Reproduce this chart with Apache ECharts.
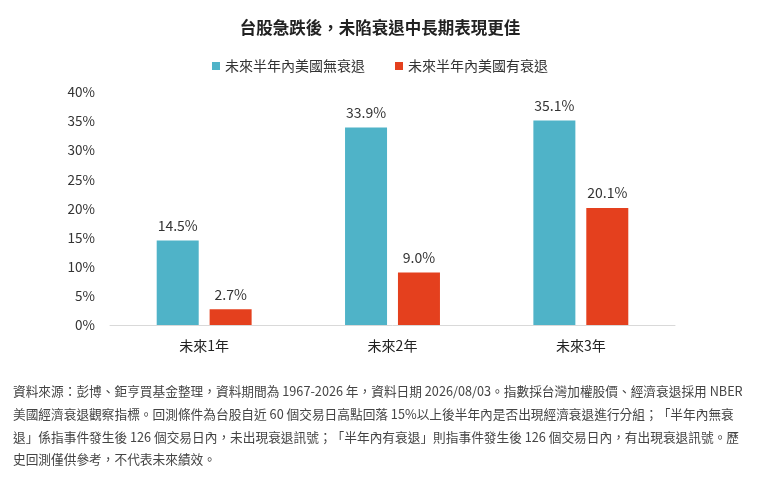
<!DOCTYPE html>
<html>
<head>
<meta charset="utf-8">
<script src="https://cdn.jsdelivr.net/npm/echarts@6/dist/echarts.min.js"></script>
<style>
  html, body { margin: 0; padding: 0; background: #fff; }
  #chart { width: 760px; height: 478px; }
</style>
</head>
<body>
<div id="chart"></div>
<script>
// data
const categories = ['未來1年', '未來2年', '未來3年'];
const noRecession = [14.5, 33.9, 35.1];
const withRecession = [2.7, 9.0, 20.1];
const seriesNames = ['未來半年內美國無衰退', '未來半年內美國有衰退'];
const titleText = '台股急跌後，未陷衰退中長期表現更佳';
const footnoteLines = [
    '資料來源：彭博、鉅亨買基金整理，資料期間為 1967-2026 年，資料日期 2026/08/03。指數採台灣加權股價、經濟衰退採用 NBER',
    '美國經濟衰退觀察指標。回測條件為台股自近 60 個交易日高點回落 15%以上後半年內是否出現經濟衰退進行分組；「半年內無衰',
    '退」係指事件發生後 126 個交易日內，未出現衰退訊號；「半年內有衰退」則指事件發生後 126 個交易日內，有出現衰退訊號。歷',
    '史回測僅供參考，不代表未來績效。'
];

const font = '"Noto Sans CJK TC", "Noto Sans", sans-serif';
const ecIns = echarts.init(document.getElementById('chart'));

const labelStyle = {
    show: true,
    position: 'top',
    distance: 8,
    fontSize: 14,
    color: '#333',
    fontFamily: font,
    formatter: p => p.value.toFixed(1) + '%'
};

ecIns.setOption({
    animation: false,
    textStyle: { fontFamily: font },
    title: {
        text: titleText,
        left: 'center',
        top: 14,
        textStyle: { fontSize: 16.5, fontWeight: 'bold', color: '#222', fontFamily: font }
    },
    legend: {
        top: 54,
        left: 'center',
        itemWidth: 8,
        itemHeight: 8,
        itemGap: 30,
        icon: 'rect',
        textStyle: { fontSize: 14, color: '#333', fontFamily: font },
        data: seriesNames
    },
    grid: { left: 110, right: 85, top: 92, bottom: 153, containLabel: false },
    xAxis: {
        type: 'category',
        data: categories,
        axisLine: { lineStyle: { color: '#d9d9d9' } },
        axisTick: { show: false },
        axisLabel: { fontSize: 14, color: '#222', margin: 14, fontFamily: font }
    },
    yAxis: {
        type: 'value',
        min: 0,
        max: 40,
        interval: 5,
        axisLine: { show: false },
        axisTick: { show: false },
        splitLine: { show: false },
        axisLabel: { formatter: '{value}%', fontSize: 13.5, color: '#333', margin: 15, fontFamily: font }
    },
    series: [
        {
            name: seriesNames[0],
            type: 'bar',
            data: noRecession,
            barWidth: 42,
            barGap: '26%',
            itemStyle: { color: '#4fb3c8' },
            label: labelStyle
        },
        {
            name: seriesNames[1],
            type: 'bar',
            data: withRecession,
            barWidth: 42,
            itemStyle: { color: '#e4401e' },
            label: labelStyle
        }
    ],
    graphic: footnoteLines.map((line, i) => ({
        type: 'text',
        left: 13,
        top: 385 + i * 22.7,
        style: { text: line, fontSize: 12.7, fill: '#444', fontFamily: font }
    }))
});
</script>
</body>
</html>
